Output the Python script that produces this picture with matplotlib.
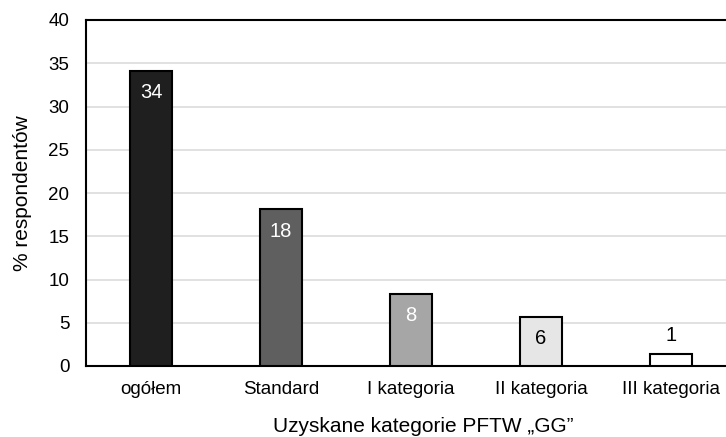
import matplotlib.pyplot as plt

plt.rcParams['font.family'] = ['Liberation Sans', 'DejaVu Sans']

categories = ["ogółem", "Standard", "I kategoria", "II kategoria", "III kategoria"]
values = [34.1, 18.1, 8.3, 5.7, 1.35]
labels = ["34", "18", "8", "6", "1"]
colors = ["#1f1f1f", "#5f5f5f", "#a6a6a6", "#e6e6e6", "#ffffff"]
label_colors = ["white", "white", "white", "black", "black"]

fig = plt.figure(figsize=(7.26, 4.37), dpi=100)
ax = fig.add_axes([86 / 726, 1 - 366 / 437, 650 / 726, 346 / 437])

x = list(range(len(categories)))
ax.bar(x, values, width=0.32, color=colors, edgecolor="black", linewidth=1.5, zorder=3)

for i in x:
    if values[i] > 4:
        ax.text(i, values[i] - 2.5, labels[i], ha="center", va="center",
                color=label_colors[i], fontsize=14.5, zorder=4)
    else:
        ax.text(i, values[i] + 2.2, labels[i], ha="center", va="center",
                color=label_colors[i], fontsize=14.5, zorder=4)

ax.set_xlim(-0.5, len(categories) - 0.5)
ax.set_ylim(0, 40)
ax.set_yticks(range(0, 41, 5))
ax.set_xticks(x)
ax.set_xticklabels(categories)
ax.tick_params(axis="both", length=0, labelsize=13.5)
ax.tick_params(axis="y", pad=12)
ax.tick_params(axis="x", pad=11)
ax.yaxis.grid(True, color="#dcdcdc", linewidth=1.2, zorder=0)
ax.set_axisbelow(True)
for s in ax.spines.values():
    s.set_linewidth(1.5)
    s.set_color("black")

ax.set_ylabel("% respondentów", fontsize=15, labelpad=12)
fig.text(423 / 726, 1 - 426 / 437, "Uzyskane kategorie PFTW „GG”", ha="center", va="center", fontsize=15)

fig.savefig("out.png", dpi=100)
